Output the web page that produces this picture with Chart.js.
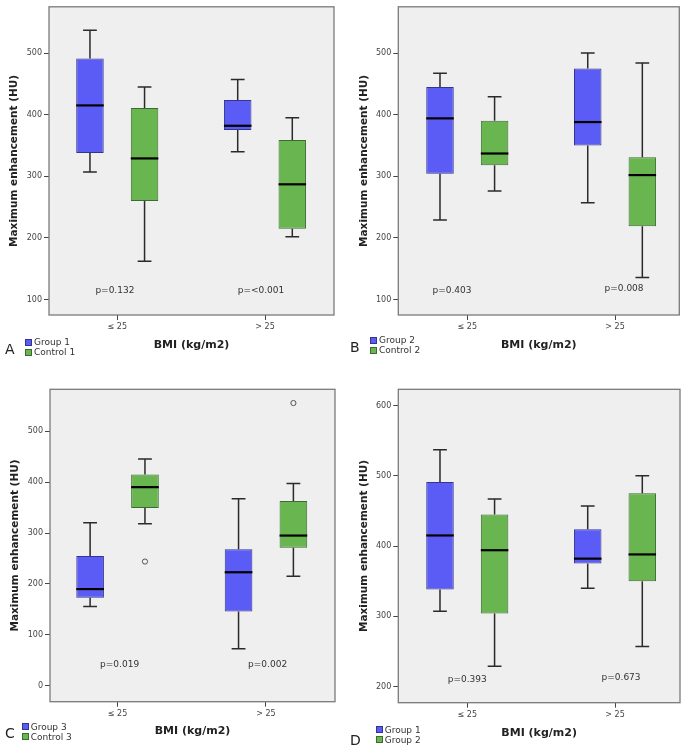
<!DOCTYPE html>
<html>
<head>
<meta charset="utf-8">
<script src="https://cdn.jsdelivr.net/npm/chart.js@4.4.1/dist/chart.umd.min.js"></script>
<style>
  body { margin: 0; background: #fff; font-family: 'DejaVu Sans', sans-serif; }
  #page { position: relative; width: 689px; height: 748px; }
  .panel { position: absolute; height: 374px; }
  .panel canvas { position: absolute; left: 0; top: 0; }
  .letter { position: absolute; font-size: 14px; line-height: 14px; color: #222; }
  .legend { position: absolute; font-size: 9px; color: #333; }
  .legend .row { height: 10px; display: flex; align-items: center; white-space: nowrap; }
  .legend .sw { width: 7px; height: 7px; box-sizing: border-box; border: 1px solid; margin-right: 2px; }
</style>
</head>
<body>
<div id="page"></div>
<script>
// BMI categories on the x axis
const bmiLabels = ['≤ 25', '> 25'];

// box stats per category: [lower whisker, Q1, median, Q3, upper whisker]
const group1Box = [[307, 338, 415, 491, 537], [340, 375, 382, 424, 457]];
const control1Box = [[162, 260, 329, 411, 445], [202, 215, 287, 359, 395]];
const group2Box = [[229, 304, 394, 445, 467], [257, 350, 388, 475, 500]];
const control2Box = [[276, 318, 337, 390, 429], [136, 219, 302, 331, 484]];
const group3Box = [[156, 173, 190, 255, 320], [73, 146, 223, 268, 367]];
const control3Box = [[318, 349, 390, 415, 445], [215, 271, 295, 363, 397]];
const control3Outliers = [[244], [555]];

const pValuesA = ['p=0.132', 'p=<0.001'];
const pValuesB = ['p=0.403', 'p=0.008'];
const pValuesC = ['p=0.019', 'p=0.002'];
const pValuesD = ['p=0.393', 'p=0.673'];

const yTicksAB = [100, 200, 300, 400, 500];
const yTicksC = [0, 100, 200, 300, 400, 500];
const yTicksD = [200, 300, 400, 500, 600];

const FILLS = ['#5a5cf5', '#69b550'];
const EDGES = ['#33358c', '#3b6b30'];
const FONT = "'DejaVu Sans', sans-serif";
Chart.defaults.font.family = FONT;

const panels = [
  { letter: 'A', left: 0, top: 0, width: 345, boxes: [group1Box, control1Box], names: ['Group 1', 'Control 1'],
    outliers: [null, null], pValues: pValuesA, pAt: [[-0.016, 114], [0.973, 114]],
    yMin: 75, yMax: 575, yTicks: yTicksAB, xMin: -0.462, xMax: 1.467,
    padTop: 4, padRight: 11, yWidth: 49, xHeight: 59, yTitlePad: 8.2, xTitlePad: 22.4,
    legendAt: [25, 337], letterAt: [5, 342] },
  { letter: 'B', left: 345, top: 0, width: 344, boxes: [group2Box, control2Box], names: ['Group 2', 'Control 2'],
    outliers: [null, null], pValues: pValuesB, pAt: [[-0.104, 115], [1.061, 117.6]],
    yMin: 75, yMax: 575, yTicks: yTicksAB, xMin: -0.467, xMax: 1.435,
    padTop: 4, padRight: 9.7, yWidth: 53.3, xHeight: 59, yTitlePad: 13.2, xTitlePad: 22.4,
    legendAt: [25, 335], letterAt: [5, 340] },
  { letter: 'C', left: 0, top: 374, width: 345, boxes: [group3Box, control3Box], names: ['Group 3', 'Control 3'],
    outliers: [null, control3Outliers], pValues: pValuesC, pAt: [[0.014, 41], [1.011, 41]],
    yMin: -31, yMax: 582, yTicks: yTicksC, xMin: -0.455, xMax: 1.465,
    padTop: 15.3, padRight: 10, yWidth: 50, xHeight: 46.3, yTitlePad: 8.7, xTitlePad: 10.4,
    legendAt: [21.7, 347.5], letterAt: [5, 351.5] },
  { letter: 'D', left: 345, top: 374, width: 344, boxes: [group1Box, group2Box], names: ['Group 1', 'Group 2'],
    outliers: [null, null], pValues: pValuesD, pAt: [[0, 209.5], [1.041, 213]],
    yMin: 177, yMax: 623, yTicks: yTicksD, xMin: -0.467, xMax: 1.44,
    padTop: 15.3, padRight: 9, yWidth: 53.3, xHeight: 45.3, yTitlePad: 12.7, xTitlePad: 8.4,
    legendAt: [30.7, 350.7], letterAt: [5, 359] },
];

// whiskers, medians, outliers, p-values and plot frame
const boxPlugin = {
  id: 'boxWhiskers',
  beforeDraw(chart) {
    const { ctx, chartArea: a } = chart;
    ctx.save();
    ctx.fillStyle = '#efefef';
    ctx.fillRect(a.left, a.top, a.width, a.height);
    ctx.restore();
  },
  afterDatasetsDraw(chart, args, opts) {
    const { ctx, chartArea: a, scales: { x, y } } = chart;
    ctx.save();
    chart.data.datasets.forEach((ds, k) => {
      chart.getDatasetMeta(k).data.forEach((bar, i) => {
        const [lo, q1, med, q3, hi] = ds.stats[i];
        const cx = bar.x, half = bar.width / 2, cap = bar.width / 4;
        ctx.strokeStyle = '#2a2a2a';
        ctx.lineWidth = 1.5;
        ctx.beginPath();
        ctx.moveTo(cx, y.getPixelForValue(q3));
        ctx.lineTo(cx, y.getPixelForValue(hi));
        ctx.moveTo(cx - cap, y.getPixelForValue(hi));
        ctx.lineTo(cx + cap, y.getPixelForValue(hi));
        ctx.moveTo(cx, y.getPixelForValue(q1));
        ctx.lineTo(cx, y.getPixelForValue(lo));
        ctx.moveTo(cx - cap, y.getPixelForValue(lo));
        ctx.lineTo(cx + cap, y.getPixelForValue(lo));
        ctx.stroke();
        ctx.strokeStyle = '#000';
        ctx.lineWidth = 2.2;
        ctx.beginPath();
        ctx.moveTo(cx - half, y.getPixelForValue(med));
        ctx.lineTo(cx + half, y.getPixelForValue(med));
        ctx.stroke();
        const outs = ds.outliers ? ds.outliers[i] : [];
        outs.forEach(v => {
          ctx.strokeStyle = '#555';
          ctx.lineWidth = 1;
          ctx.beginPath();
          ctx.arc(cx, y.getPixelForValue(v), 2.6, 0, Math.PI * 2);
          ctx.stroke();
        });
      });
    });
    ctx.fillStyle = '#333';
    ctx.font = '9px ' + FONT;
    ctx.textAlign = 'center';
    ctx.textBaseline = 'middle';
    opts.pValues.forEach((t, i) => {
      ctx.fillText(t, x.getPixelForValue(opts.pAt[i][0]), y.getPixelForValue(opts.pAt[i][1]));
    });
    ctx.strokeStyle = '#7a7a7a';
    ctx.lineWidth = 1.3;
    ctx.strokeRect(a.left, a.top, a.width, a.height);
    ctx.restore();
  }
};

function makePanel(p) {
  const page = document.getElementById('page');
  const div = document.createElement('div');
  div.className = 'panel';
  div.style.left = p.left + 'px';
  div.style.top = p.top + 'px';
  div.style.width = p.width + 'px';
  const canvas = document.createElement('canvas');
  canvas.width = p.width;
  canvas.height = 374;
  div.appendChild(canvas);
  page.appendChild(div);

  const datasets = p.boxes.map((box, k) => ({
    label: p.names[k],
    data: box.map((s, i) => ({ x: i, y: [s[1], s[3]] })),
    stats: box,
    outliers: p.outliers[k],
    backgroundColor: FILLS[k],
    borderColor: EDGES[k],
    borderWidth: 1,
    borderSkipped: false,
    categoryPercentage: 0.739,
    barPercentage: 0.504,
  }));

  const tickFont = { family: FONT, size: 8 };
  const chart = new Chart(canvas, {
    type: 'bar',
    data: { datasets },
    options: {
      responsive: false,
      animation: false,
      layout: { padding: { left: 0, top: p.padTop, right: p.padRight, bottom: 0 } },
      plugins: {
        legend: { display: false },
        tooltip: { enabled: false },
        boxWhiskers: { pValues: p.pValues, pAt: p.pAt },
      },
      scales: {
        x: {
          type: 'linear',
          min: p.xMin,
          max: p.xMax,
          offset: false,
          afterBuildTicks: s => { s.ticks = bmiLabels.map((_, i) => ({ value: i })); },
          afterFit: s => { s.height = p.xHeight; },
          ticks: { callback: v => bmiLabels[v], font: tickFont, color: '#444', padding: 2, maxRotation: 0, autoSkip: false },
          grid: { drawOnChartArea: false, offset: false, tickLength: 5, color: '#444' },
          border: { display: false },
          title: { display: true, text: 'BMI (kg/m2)', color: '#222',
                   font: { family: FONT, size: 11, weight: 'bold' }, padding: { top: 0, bottom: p.xTitlePad } },
        },
        y: {
          min: p.yMin,
          max: p.yMax,
          beginAtZero: false,
          afterBuildTicks: s => { s.ticks = p.yTicks.map(v => ({ value: v })); },
          afterFit: s => { s.width = p.yWidth; },
          ticks: { font: tickFont, color: '#444', padding: 2 },
          grid: { drawOnChartArea: false, tickLength: 5, color: '#444' },
          border: { display: false },
          title: { display: true, text: 'Maximum enhancement (HU)', color: '#222',
                   font: { family: FONT, size: 10.5, weight: 'bold' }, padding: { top: p.yTitlePad, bottom: 0 } },
        },
      },
    },
    plugins: [boxPlugin],
  });

  // panel letter and html legend from the chart's datasets
  const letter = document.createElement('div');
  letter.className = 'letter';
  letter.textContent = p.letter;
  letter.style.left = p.letterAt[0] + 'px';
  letter.style.top = p.letterAt[1] + 'px';
  div.appendChild(letter);

  const legend = document.createElement('div');
  legend.className = 'legend';
  legend.style.left = p.legendAt[0] + 'px';
  legend.style.top = p.legendAt[1] + 'px';
  chart.data.datasets.forEach(ds => {
    const row = document.createElement('div');
    row.className = 'row';
    const sw = document.createElement('span');
    sw.className = 'sw';
    sw.style.background = ds.backgroundColor;
    sw.style.borderColor = ds.borderColor;
    const txt = document.createElement('span');
    txt.textContent = ds.label;
    row.appendChild(sw);
    row.appendChild(txt);
    legend.appendChild(row);
  });
  div.appendChild(legend);
  return chart;
}

panels.forEach(makePanel);
</script>
</body>
</html>
